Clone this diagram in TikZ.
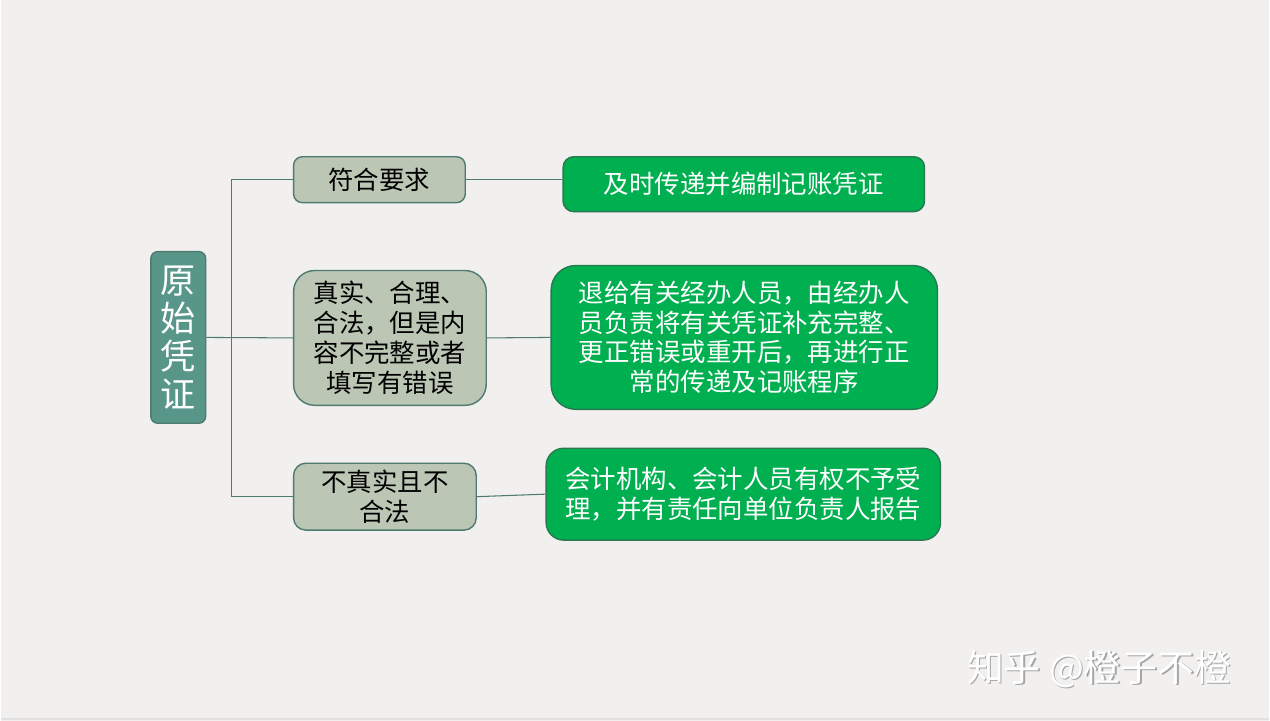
\documentclass[tikz,border=0pt]{standalone}
\usepackage{fontspec}
\setmainfont{Noto Sans CJK SC}
\usetikzlibrary{positioning}

\definecolor{paper}{RGB}{241,240,238}
\definecolor{teal}{RGB}{88,150,138}
\definecolor{sage}{RGB}{187,198,181}
\definecolor{edgegray}{RGB}{78,122,112}
\definecolor{leaf}{RGB}{0,176,80}
\definecolor{leafedge}{RGB}{40,120,80}

\begin{document}
\begin{tikzpicture}[x=1cm,y=1cm]
  \tikzstyle{root}=[draw=edgegray,fill=teal,rounded corners=4pt,text=white,
    font=\fontsize{20pt}{21.6pt}\selectfont,align=center,inner sep=0pt,line width=0.8pt]
  \tikzstyle{cond}=[draw=edgegray,fill=sage,text=black,
    font=\fontsize{14.5pt}{17pt}\selectfont,align=center,inner sep=0pt,line width=0.8pt]
  \tikzstyle{act}=[draw=leafedge,fill=leaf,text=white,
    font=\fontsize{14.5pt}{17pt}\selectfont,align=center,inner sep=0pt,line width=0.8pt]
  \tikzstyle{link}=[draw=edgegray,line width=0.6pt]

  % background
  \fill[paper] (0,0) rectangle (25.4,14.44);
  \draw[black!12,line width=1.2pt] (0,0.04) -- (25.4,0.04);
  \useasboundingbox (0,0) rectangle (25.4,14.44);

  \node[root,minimum width=1.1cm,minimum height=3.44cm]     (yuanshi) at (3.55,7.68) {原\\始\\凭\\证};

  \node[cond,rounded corners=5pt,minimum width=3.44cm,minimum height=0.92cm]  (fuhe)  at (7.58,10.84) {符合要求};
  \node[cond,rounded corners=12pt,minimum width=3.86cm,minimum height=2.7cm]  (buwan) at (7.79,7.67)
    {真实、合理、\\合法，但是内\\容不完整或者\\填写有错误};
  \node[cond,rounded corners=7pt,minimum width=3.66cm,minimum height=1.34cm]  (buzhen) at (7.69,4.49)
    {不真实且不\\合法};

  \node[act,rounded corners=6pt,minimum width=7.24cm,minimum height=1.1cm]   (chuandi) at (14.88,10.75)
    {及时传递并编制记账凭证};
  \node[act,rounded corners=14pt,minimum width=7.74cm,minimum height=2.88cm] (tuigei)  at (14.89,7.68)
    {退给有关经办人员，由经办人\\员负责将有关凭证补充完整、\\更正错误或重开后，再进行正\\常的传递及记账程序};
  \node[act,rounded corners=10pt,minimum width=7.9cm,minimum height=1.84cm]  (shouli)  at (14.87,4.54)
    {\fontsize{14.5pt}{19pt}\selectfont 会计机构、会计人员有权不予受\\理，并有责任向单位负责人报告};

  \coordinate (trunk) at (4.62,7.68);

  \draw[link] (yuanshi.east) -- (buwan.west);
  \draw[link] (fuhe.west) -| (trunk) |- (buzhen.west);
  \draw[link] (fuhe.east)   -- (chuandi.west |- fuhe.east);
  \draw[link] (buwan.east)  -- (tuigei.west);
  \draw[link] (buzhen.east) -- (shouli.west);

  % watermark
  \node[text=black!35,font=\fontsize{21pt}{22pt}\selectfont] (wmshadow) at (22.03,1.01) {知乎 @橙子不橙};
  \node[text=white,font=\fontsize{21pt}{22pt}\selectfont]    (wm)       at (22.0,1.04)  {知乎 @橙子不橙};
\end{tikzpicture}
\end{document}
